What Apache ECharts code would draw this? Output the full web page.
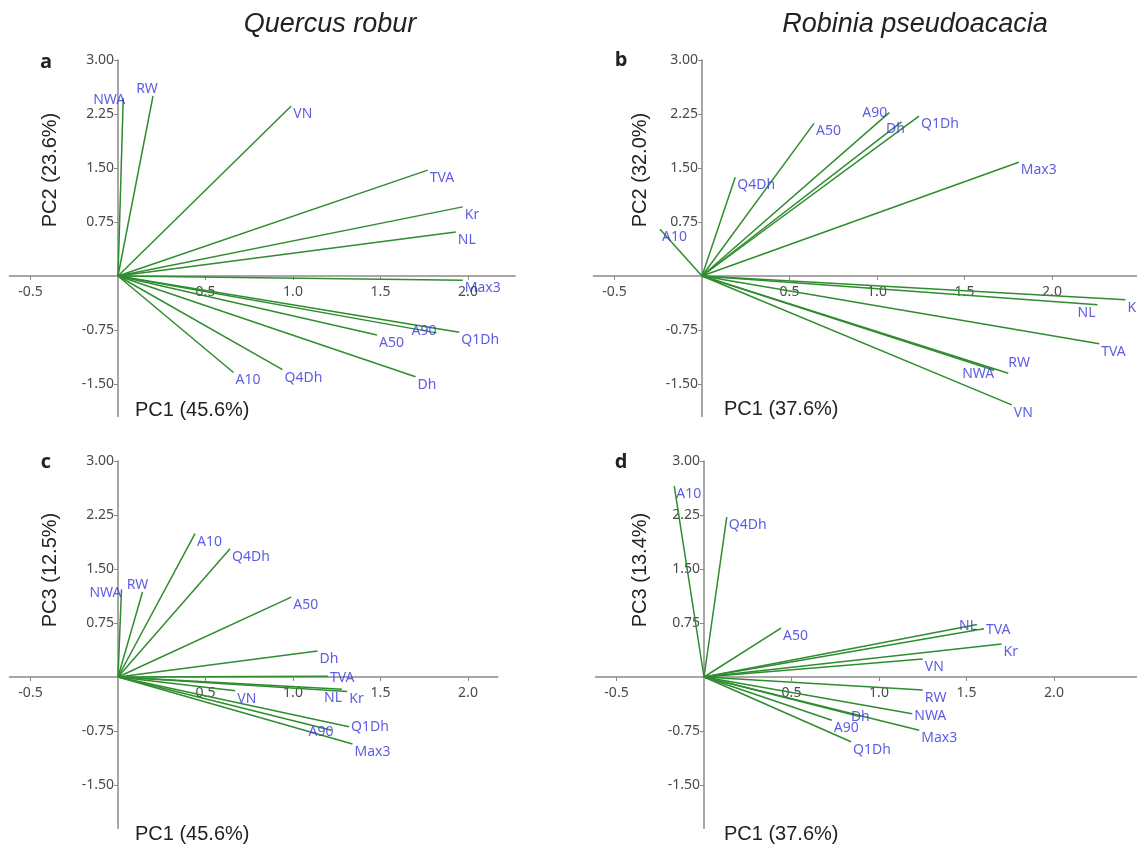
<!DOCTYPE html>
<html>
<head>
<meta charset="utf-8">
<script src="https://cdn.jsdelivr.net/npm/echarts@6/dist/echarts.min.js"></script>
<style>
  html, body { margin: 0; padding: 0; background: #fff; }
  #chart { width: 1137px; height: 848px; }
</style>
</head>
<body>
<div id="chart"></div>
<script>
// loadings: a/c = Quercus robur, b/d = Robinia pseudoacacia
const namesA = ['NWA', 'RW', 'VN', 'TVA', 'Kr', 'NL', 'Max3', 'A90', 'Q1Dh', 'A50', 'Dh', 'Q4Dh', 'A10']
const pc1A = [0.03, 0.2, 0.99, 1.77, 1.97, 1.93, 1.97, 1.82, 1.95, 1.48, 1.7, 0.94, 0.66]
const pc2A = [2.47, 2.5, 2.36, 1.47, 0.96, 0.61, -0.06, -0.79, -0.78, -0.82, -1.4, -1.3, -1.34]

const namesB = ['A10', 'Q4Dh', 'A50', 'A90', 'Dh', 'Q1Dh', 'Max3', 'K', 'NL', 'TVA', 'RW', 'NWA', 'VN']
const pc1B = [-0.24, 0.19, 0.64, 1.07, 1.14, 1.24, 1.81, 2.42, 2.26, 2.27, 1.75, 1.67, 1.77]
const pc2B = [0.65, 1.37, 2.12, 2.27, 2.14, 2.22, 1.58, -0.33, -0.4, -0.94, -1.35, -1.31, -1.79]

const namesC = ['NWA', 'RW', 'A10', 'Q4Dh', 'A50', 'Dh', 'TVA', 'NL', 'Kr', 'VN', 'Q1Dh', 'A90', 'Max3']
const pc1C = [0.02, 0.14, 0.44, 0.64, 0.99, 1.14, 1.2, 1.28, 1.31, 0.67, 1.32, 1.22, 1.34]
const pc3C = [1.22, 1.18, 1.99, 1.78, 1.11, 0.36, 0.01, -0.17, -0.2, -0.19, -0.69, -0.74, -0.93]

const namesD = ['A10', 'Q4Dh', 'A50', 'NL', 'TVA', 'Kr', 'VN', 'RW', 'NWA', 'Max3', 'Dh', 'A90', 'Q1Dh']
const pc1D = [-0.17, 0.13, 0.44, 1.56, 1.6, 1.7, 1.25, 1.25, 1.19, 1.23, 0.89, 0.73, 0.84]
const pc3D = [2.65, 2.22, 0.68, 0.73, 0.67, 0.46, 0.25, -0.18, -0.51, -0.74, -0.55, -0.6, -0.9]

const xTicks = [-0.5, 0.5, 1.0, 1.5, 2.0]
const yTicks = [-1.5, -0.75, 0.75, 1.5, 2.25, 3.0]

// where a label sits if not right of the tip
const labelPos = {
  a: { NWA: ['left', [4, 2]], RW: ['top', [-6, 2]], A90: ['left', [2, -2]] },
  b: { A90: ['left', [0, 0]], Dh: ['bottom', [-6, -2]], NL: ['left', [0, 8]], RW: ['right', [-2, -10]], NWA: ['left', [2, 4]] },
  c: { NWA: ['left', [2, 4]], RW: ['top', [-5, 2]], NL: ['bottom', [-9, 0]], TVA: ['right', [0, 2]], Q1Dh: ['right', [0, 0]], A90: ['left', [4, 2]] },
  d: { NL: ['left', [2, 2]], TVA: ['right', [0, 1]], NWA: ['right', [0, 2]], Dh: ['left', [12, 0]] }
}

const panels = [
  { key: 'a', names: namesA, xs: pc1A, ys: pc2A, left: 9.5, top: 60, xMax: 2.27, yMin: -1.95 },
  { key: 'b', names: namesB, xs: pc1B, ys: pc2B, left: 593.5, top: 60, xMax: 2.5, yMin: -1.95 },
  { key: 'c', names: namesC, xs: pc1C, ys: pc3C, left: 9.5, top: 461, xMax: 2.17, yMin: -2.1 },
  { key: 'd', names: namesD, xs: pc1D, ys: pc3D, left: 595.5, top: 461, xMax: 2.5, yMin: -2.1 }
]
const xMin = -0.62
const pxX = 175
const pxY = 72

const axisColor = '#8a8a8a'
const tickFont = { color: '#4a4a4a', fontSize: 14, fontFamily: 'Noto Sans' }

const grid = []
const xAxis = []
const yAxis = []
const series = []

panels.forEach((p, i) => {
  grid.push({
    left: p.left,
    top: p.top,
    width: (p.xMax - xMin) * pxX,
    height: (3 - p.yMin) * pxY,
    containLabel: false,
    outerBoundsMode: 'none'
  })
  // axes cross at the origin: shift them from the grid edge by offset
  xAxis.push({
    type: 'value',
    gridIndex: i,
    min: xMin,
    max: p.xMax,
    position: 'bottom',
    offset: p.yMin * pxY,
    axisLine: { onZero: false, lineStyle: { color: axisColor, width: 1.5 } },
    axisTick: { customValues: xTicks, length: 4, lineStyle: { color: axisColor } },
    axisLabel: Object.assign({ customValues: xTicks, margin: 9, formatter: v => v.toFixed(1) }, tickFont),
    splitLine: { show: false }
  })
  yAxis.push({
    type: 'value',
    gridIndex: i,
    min: p.yMin,
    max: 3,
    position: 'left',
    offset: xMin * pxX,
    axisLine: { onZero: false, lineStyle: { color: axisColor, width: 1.5 } },
    axisTick: { customValues: yTicks, length: 4, lineStyle: { color: axisColor } },
    axisLabel: Object.assign({ customValues: yTicks, margin: 4, formatter: v => v.toFixed(2) }, tickFont),
    splitLine: { show: false }
  })
  series.push({
    type: 'lines',
    coordinateSystem: 'cartesian2d',
    xAxisIndex: i,
    yAxisIndex: i,
    silent: true,
    lineStyle: { color: '#2f8c2f', width: 1.5, opacity: 1 },
    data: p.names.map((n, j) => ({ coords: [[0, 0], [p.xs[j], p.ys[j]]] }))
  })
  series.push({
    type: 'scatter',
    xAxisIndex: i,
    yAxisIndex: i,
    symbolSize: 0,
    silent: true,
    label: {
      show: true,
      formatter: '{b}',
      position: 'right',
      distance: 2,
      offset: [0, 8],
      color: '#3535dc',
      fontSize: 14,
      fontFamily: 'Noto Sans'
    },
    data: p.names.map((n, j) => {
      const item = { name: n, value: [p.xs[j], p.ys[j]] }
      const o = labelPos[p.key][n]
      if (o) item.label = { position: o[0], offset: o[1] }
      return item
    })
  })
})

const axisNameStyle = { fill: '#222', fontSize: 20, fontFamily: 'Liberation Sans' }
const text = (x, y, t, extra) => ({ type: 'text', x: x, y: y, style: Object.assign({ text: t }, axisNameStyle, extra || {}) })
const vText = (x, y, t) => ({
  type: 'text', x: x, y: y, rotation: Math.PI / 2,
  style: Object.assign({ text: t, textAlign: 'center', textVerticalAlign: 'middle' }, axisNameStyle)
})

const graphic = [
  text(330, 24, 'Quercus robur', { fontSize: 27, fontStyle: 'italic', textAlign: 'center', textVerticalAlign: 'middle' }),
  text(915, 24, 'Robinia pseudoacacia', { fontSize: 27, fontStyle: 'italic', textAlign: 'center', textVerticalAlign: 'middle' }),
  text(46, 62, 'a', { fontWeight: 'bold', fontFamily: 'Open Sans', textAlign: 'center', textVerticalAlign: 'middle' }),
  text(621, 60, 'b', { fontWeight: 'bold', fontFamily: 'Open Sans', textAlign: 'center', textVerticalAlign: 'middle' }),
  text(46, 462, 'c', { fontWeight: 'bold', fontFamily: 'Open Sans', textAlign: 'center', textVerticalAlign: 'middle' }),
  text(621, 462, 'd', { fontWeight: 'bold', fontFamily: 'Open Sans', textAlign: 'center', textVerticalAlign: 'middle' }),
  vText(50, 170, 'PC2 (23.6%)'),
  vText(640, 170, 'PC2 (32.0%)'),
  vText(50, 570, 'PC3 (12.5%)'),
  vText(640, 570, 'PC3 (13.4%)'),
  text(135, 410, 'PC1 (45.6%)', { textVerticalAlign: 'middle' }),
  text(724, 409, 'PC1 (37.6%)', { textVerticalAlign: 'middle' }),
  text(135, 834, 'PC1 (45.6%)', { textVerticalAlign: 'middle' }),
  text(724, 834, 'PC1 (37.6%)', { textVerticalAlign: 'middle' })
]

const chart = echarts.init(document.getElementById('chart'))
chart.setOption({
  animation: false,
  backgroundColor: '#fff',
  grid: grid,
  xAxis: xAxis,
  yAxis: yAxis,
  series: series,
  graphic: graphic
})
window.addEventListener('resize', () => chart.resize())
</script>
</body>
</html>
